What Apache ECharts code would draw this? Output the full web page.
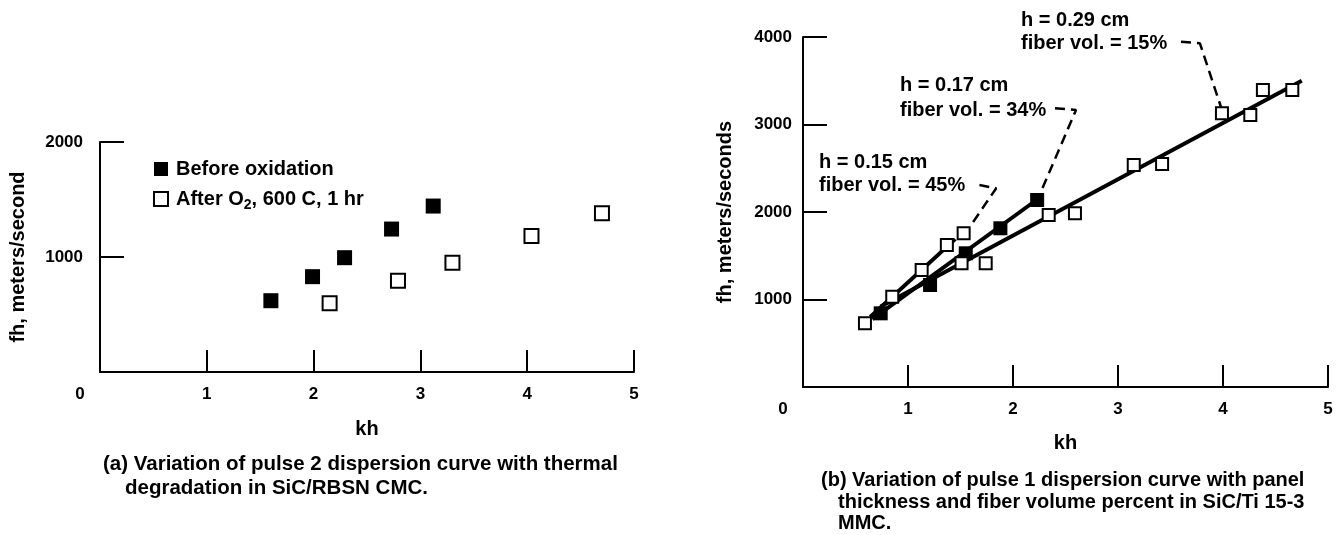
<!DOCTYPE html>
<html><head><meta charset="utf-8">
<script src="https://cdn.jsdelivr.net/npm/echarts@6/dist/echarts.min.js"></script>
<style>html,body{margin:0;padding:0;background:#fff}#c{width:1342px;height:535px}</style>
</head><body><div id="c"></div>
<script>
// ---------- data: panel (a) ----------
const aBeforeKh = [1.60, 1.99, 2.29, 2.73, 3.12];
const aBeforeFh = [620, 829, 994, 1243, 1443];
const aAfterKh  = [2.15, 2.79, 3.30, 4.04, 4.70];
const aAfterFh  = [597, 794, 950, 1183, 1380];
const aNames = ['Before oxidation', 'After O2, 600 C, 1 hr'];
const aXTicks = [0, 1, 2, 3, 4, 5];
const aYTicks = [0, 1000, 2000];

// ---------- data: panel (b) ----------
const b015Kh = [0.59, 0.85, 1.13, 1.37, 1.53];
const b015Fh = [728, 1032, 1337, 1623, 1757];
const b017Kh = [0.74, 1.21, 1.55, 1.88, 2.23];
const b017Fh = [842, 1166, 1528, 1814, 2137];
const b029Kh = [1.51, 1.74, 2.34, 2.59, 3.15, 3.42, 3.99, 4.26, 4.38, 4.66];
const b029Fh = [1414, 1414, 1966, 1985, 2537, 2549, 3128, 3109, 3394, 3394];
const fit015Kh = [0.64, 1.45], fit015Fh = [800, 1690];
const fit017Kh = [0.66, 2.25], fit017Fh = [775, 2160];
const fit029Kh = [0.74, 4.75], fit029Fh = [920, 3500];
const lead015Kh = [1.68, 1.84, 1.59], lead015Fh = [2309, 2271, 1832];
const lead017Kh = [2.40, 2.60, 2.26], lead017Fh = [3185, 3166, 2214];
const lead029Kh = [3.60, 3.78, 3.99], lead029Fh = [3946, 3928, 3166];
const bYTicks = [0, 1000, 2000, 3000, 4000];

const FF = '"Liberation Sans", Arial, Helvetica, sans-serif';
const zip = (xs, ys) => xs.map((x, i) => [x, ys[i]]);

function xAxis(gi, gap) {
  return {
    type: 'value', gridIndex: gi, min: aXTicks[0], max: aXTicks[aXTicks.length - 1], interval: 1,
    axisLine: { show: true, onZero: false, lineStyle: { color: '#000', width: 2 } },
    axisTick: { show: true, inside: true, length: 22, lineStyle: { color: '#000', width: 2 } },
    splitLine: { show: false },
    axisLabel: {
      color: '#000', fontSize: 17, fontWeight: 'bold', fontFamily: FF, margin: 14,
      formatter: v => v === 0 ? '{z|0}' : String(v),
      rich: { z: { color: '#000', fontSize: 17, fontWeight: 'bold', fontFamily: FF, padding: [0, 40, 0, 0] } }
    },
    name: 'kh', nameLocation: 'middle', nameGap: gap,
    nameTextStyle: { color: '#000', fontSize: 20, fontWeight: 'bold', fontFamily: FF }
  };
}
function yAxis(gi, ticks, name, gap, margin) {
  return {
    type: 'value', gridIndex: gi, min: ticks[0], max: ticks[ticks.length - 1], interval: 1000,
    axisLine: { show: true, onZero: false, lineStyle: { color: '#000', width: 2 } },
    axisTick: { show: true, inside: true, length: 24, lineStyle: { color: '#000', width: 2 } },
    splitLine: { show: false },
    axisLabel: { color: '#000', fontSize: 17, fontWeight: 'bold', fontFamily: FF, margin: margin,
      formatter: v => v === 0 ? '' : String(v) },
    name: name, nameLocation: 'middle', nameGap: gap,
    nameTextStyle: { color: '#000', fontSize: 20, fontWeight: 'bold', fontFamily: FF }
  };
}
const filled = { color: '#000', borderColor: '#000', borderWidth: 0, opacity: 1 };
const open = { color: '#fff', borderColor: '#000', borderWidth: 2, opacity: 1 };
function scatter(name, xi, data, style, size) {
  return { name, type: 'scatter', xAxisIndex: xi, yAxisIndex: xi, data, symbol: 'rect',
    symbolSize: size, itemStyle: style, z: 5, silent: true, animation: false };
}
function line(xi, data, width, dashed) {
  return { type: 'line', xAxisIndex: xi, yAxisIndex: xi, data, symbol: 'none', z: 3, silent: true,
    animation: false,
    lineStyle: { color: '#000', width, opacity: 1, type: dashed ? [10, 6] : 'solid' } };
}
function txt(x, y, s, size, align) {
  return { type: 'text', x, y, silent: true,
    style: { text: s, fill: '#000', fontSize: size, fontWeight: 'bold', fontFamily: FF,
      align: align || 'left', verticalAlign: 'middle' } };
}

const chart = echarts.init(document.getElementById('c'), null, { renderer: 'canvas' });
chart.setOption({
  backgroundColor: '#fff',
  animation: false,
  grid: [
    { left: 100, top: 142, width: 534, height: 230 },
    { left: 803, top: 37, width: 525, height: 350 }
  ],
  xAxis: [xAxis(0, 47), xAxis(1, 46)],
  yAxis: [yAxis(0, aYTicks, 'fh, meters/second', 72, 17), yAxis(1, bYTicks, 'fh, meters/seconds', 68, 11)],
  legend: {
    data: aNames, left: 148, top: 154, orient: 'vertical', icon: 'rect',
    itemWidth: 14, itemHeight: 14, itemGap: 10,
    formatter: n => n === aNames[1] ? '{n|After O}{s|2}{n|, 600 C, 1 hr}' : '{n|' + n + '}',
    textStyle: { color: '#000', fontSize: 20, fontWeight: 'bold', fontFamily: FF, padding: [0, 0, 0, 3],
      rich: {
        n: { color: '#000', fontSize: 20, fontWeight: 'bold', fontFamily: FF },
        s: { color: '#000', fontSize: 14, fontWeight: 'bold', fontFamily: FF, padding: [12, 0, 0, 0] }
      } }
  },
  series: [
    scatter(aNames[0], 0, zip(aBeforeKh, aBeforeFh), filled, 15),
    scatter(aNames[1], 0, zip(aAfterKh, aAfterFh), open, 14),
    line(1, zip(fit015Kh, fit015Fh), 4, false),
    line(1, zip(fit017Kh, fit017Fh), 4, false),
    line(1, zip(fit029Kh, fit029Fh), 4, false),
    line(1, zip(lead015Kh, lead015Fh), 2.5, true),
    line(1, zip(lead017Kh, lead017Fh), 2.5, true),
    line(1, zip(lead029Kh, lead029Fh), 2.5, true),
    scatter('h = 0.15 cm', 1, zip(b015Kh, b015Fh), open, 12),
    scatter('h = 0.17 cm', 1, zip(b017Kh, b017Fh), filled, 14),
    scatter('h = 0.29 cm', 1, zip(b029Kh, b029Fh), open, 12)
  ],
  graphic: [
    txt(1021, 20, 'h = 0.29 cm', 20), txt(1021, 43, 'fiber vol. = 15%', 20),
    txt(900, 85, 'h = 0.17 cm', 20), txt(900, 110, 'fiber vol. = 34%', 20),
    txt(819, 162, 'h = 0.15 cm', 20), txt(819, 185, 'fiber vol. = 45%', 20),
    txt(103, 464, '(a) Variation of pulse 2 dispersion curve with thermal', 20.5),
    txt(125, 488, 'degradation in SiC/RBSN CMC.', 20.5),
    txt(821, 480, '(b) Variation of pulse 1 dispersion curve with panel', 20),
    txt(838, 502, 'thickness and fiber volume percent in SiC/Ti 15-3', 20),
    txt(838, 523, 'MMC.', 20)
  ]
});
</script></body></html>
